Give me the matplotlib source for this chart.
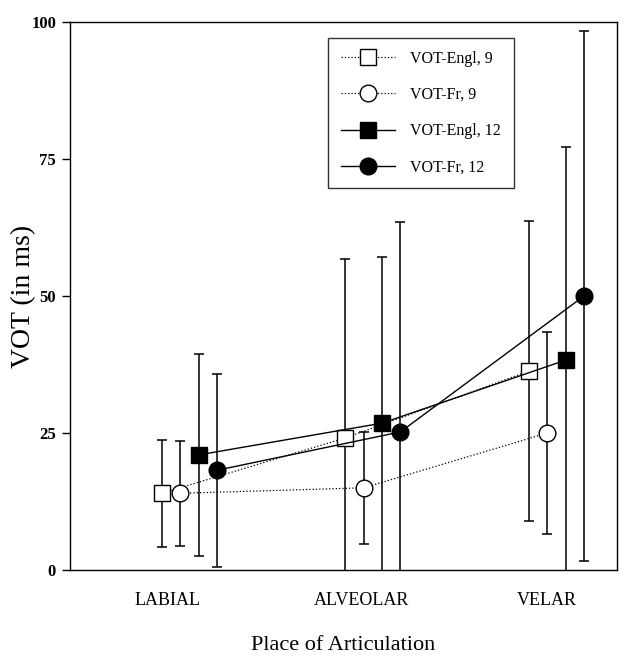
import matplotlib
matplotlib.use("Agg")
import matplotlib.pyplot as plt
import numpy as np

categories = ["LABIAL", "ALVEOLAR", "VELAR"]

# mean VOT (ms) and standard deviation, per place of articulation
engl9_mean = [14.0, 24.1, 36.3]
engl9_sd = [9.8, 32.7, 27.3]
fr9_mean = [14.0, 15.0, 25.0]
fr9_sd = [9.6, 10.2, 18.4]
engl12_mean = [21.0, 26.8, 38.3]
engl12_sd = [18.5, 30.3, 38.9]
fr12_mean = [18.2, 25.2, 50.0]
fr12_sd = [17.6, 38.3, 48.4]

labels = ["VOT-Engl, 9", "VOT-Fr, 9", "VOT-Engl, 12", "VOT-Fr, 12"]

plt.rcParams['font.family'] = ['Liberation Serif', 'DejaVu Serif']

fig = plt.figure(figsize=(6.29, 6.66), dpi=100, facecolor='w')
ax = fig.add_axes([0.1113, 0.1441, 0.8697, 0.8229])

base = np.arange(1, len(categories) + 1)
series = [
    (engl9_mean, engl9_sd, 's', 'white', ':', 0.9),
    (fr9_mean, fr9_sd, 'o', 'white', ':', 0.9),
    (engl12_mean, engl12_sd, 's', 'black', '-', 1.0),
    (fr12_mean, fr12_sd, 'o', 'black', '-', 1.0),
]

handles = []
for k, (m, sd, mk, fc, ls, lw) in enumerate(series):
    x = base + 0.1 * k
    ax.errorbar(x, m, yerr=sd, fmt='none', ecolor='black', elinewidth=1.1,
                capsize=3.6, capthick=1.1, zorder=2)
    h, = ax.plot(x, m, linestyle=ls, linewidth=lw, color='black',
                 marker=mk, markersize=12, markerfacecolor=fc,
                 markeredgecolor='black', markeredgewidth=1.0,
                 label=labels[k], zorder=3 + k)
    handles.append(h)

ax.set_xlim(0.5, 3.48)
ax.set_ylim(0, 100)
ax.set_yticks([0, 25, 50, 75, 100])
ax.set_xticks([1.03, 2.09, 3.10])
ax.set_xticklabels(categories, fontsize=13)
ax.tick_params(axis='x', length=0, pad=16)
ax.tick_params(axis='y', direction='out', length=6, width=1, pad=4)
for t in ax.get_yticklabels():
    t.set_fontweight('bold')
    t.set_fontsize(12)

for s in ax.spines.values():
    s.set_linewidth(1.0)

ax.set_ylabel("VOT (in ms)", fontsize=20)
ax.yaxis.set_label_coords(-0.062, 0.5)
ax.set_xlabel("Place of Articulation", fontsize=16, labelpad=19)

leg = ax.legend(handles=handles, loc='upper left',
                bbox_to_anchor=(0.472, 0.971), fontsize=11.5,
                frameon=True, fancybox=False, edgecolor='black',
                borderpad=0.8, labelspacing=1.27, handlelength=3.4,
                handletextpad=0.95, borderaxespad=0)
leg.get_frame().set_linewidth(1.0)

fig.savefig("out.png", dpi=100)
